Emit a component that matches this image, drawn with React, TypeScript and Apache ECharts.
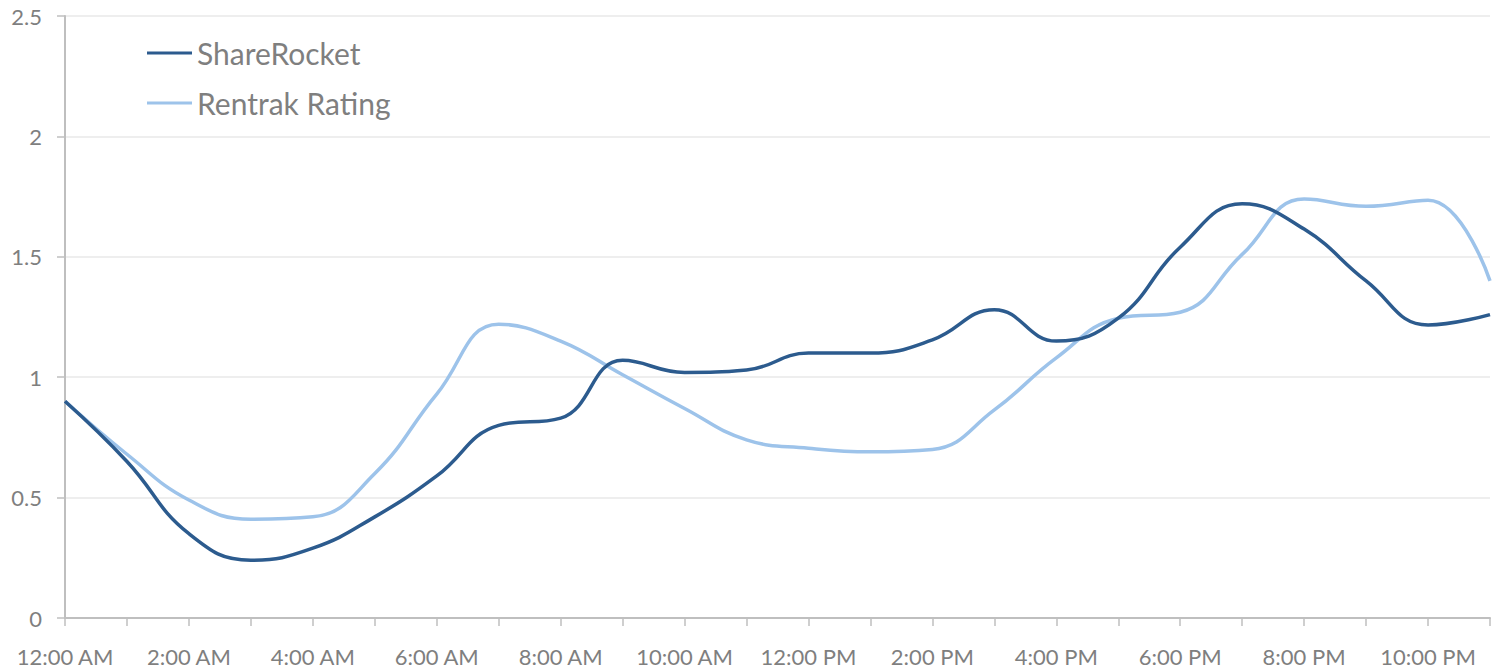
import React, { useEffect, useRef } from "react";
import * as echarts from "echarts";

// Hourly slots, 12:00 AM through 11:00 PM
const hours: string[] = [
  "12:00 AM", "1:00 AM", "2:00 AM", "3:00 AM", "4:00 AM", "5:00 AM",
  "6:00 AM", "7:00 AM", "8:00 AM", "9:00 AM", "10:00 AM", "11:00 AM",
  "12:00 PM", "1:00 PM", "2:00 PM", "3:00 PM", "4:00 PM", "5:00 PM",
  "6:00 PM", "7:00 PM", "8:00 PM", "9:00 PM", "10:00 PM", "11:00 PM",
];

const shareRocket: number[] = [
  0.9, 0.65, 0.35, 0.24, 0.29, 0.42, 0.59, 0.8, 0.83, 1.07, 1.02, 1.03,
  1.1, 1.1, 1.155, 1.28, 1.15, 1.245, 1.54, 1.72, 1.615, 1.4, 1.217, 1.26,
];

const rentrakRating: number[] = [
  0.9, 0.68, 0.49, 0.41, 0.42, 0.6, 0.93, 1.22, 1.15, 1.01, 0.87, 0.74,
  0.705, 0.69, 0.7, 0.864, 1.08, 1.245, 1.27, 1.51, 1.74, 1.71, 1.735, 1.4,
];

const yTicks = { min: 0, max: 2.5, interval: 0.5 };

const FONT = "Lato, 'Open Sans', sans-serif";
const GREY_TEXT = "#7f7f7f";

export default function App() {
  const ref = useRef<HTMLDivElement>(null);

  useEffect(() => {
    if (!ref.current) return;
    const chart = echarts.init(ref.current, undefined, { renderer: "svg" });
    chart.setOption({
      animation: false,
      backgroundColor: "#ffffff",
      grid: { left: 65, right: 16, top: 16, bottom: 52, containLabel: false },
      legend: {
        orient: "vertical",
        left: 142,
        top: 33,
        itemWidth: 45,
        itemHeight: 14,
        itemGap: 20,
        icon: "path://M0,6 L46,6 L46,9 L0,9 Z",
        textStyle: { fontFamily: FONT, fontSize: 30, color: GREY_TEXT },
        data: ["ShareRocket", "Rentrak Rating"],
      },
      xAxis: {
        type: "category",
        data: hours,
        boundaryGap: false,
        axisLine: { lineStyle: { color: "#bfbfbf", width: 2 } },
        axisTick: {
          show: true,
          interval: 0,
          length: 8,
          lineStyle: { color: "#bfbfbf", width: 1.5 },
        },
        axisLabel: {
          interval: 1,
          margin: 27,
          fontFamily: FONT,
          fontSize: 22,
          color: GREY_TEXT,
          hideOverlap: false,
        },
        splitLine: { show: false },
      },
      yAxis: {
        type: "value",
        min: yTicks.min,
        max: yTicks.max,
        interval: yTicks.interval,
        axisLine: { show: true, lineStyle: { color: "#bfbfbf", width: 2 } },
        axisTick: { show: true, length: 8, lineStyle: { color: "#bfbfbf", width: 1.5 } },
        axisLabel: {
          margin: 23,
          fontFamily: FONT,
          fontSize: 22,
          color: GREY_TEXT,
        },
        splitLine: { show: true, lineStyle: { color: "#e8e8e8", width: 1.5 } },
      },
      series: [
        {
          name: "ShareRocket",
          type: "line",
          data: shareRocket,
          smooth: 0.45,
          symbol: "none",
          color: "#2c5b8e",
          lineStyle: { color: "#2c5b8e", width: 3.5 },
          z: 3,
        },
        {
          name: "Rentrak Rating",
          type: "line",
          data: rentrakRating,
          smooth: 0.45,
          symbol: "none",
          color: "#9dc3ea",
          lineStyle: { color: "#9dc3ea", width: 3.5 },
          z: 2,
        },
      ],
    });
    return () => chart.dispose();
  }, []);

  return (
    <div
      ref={ref}
      style={{ position: "fixed", left: 0, top: 0, width: 1506, height: 670 }}
    />
  );
}
